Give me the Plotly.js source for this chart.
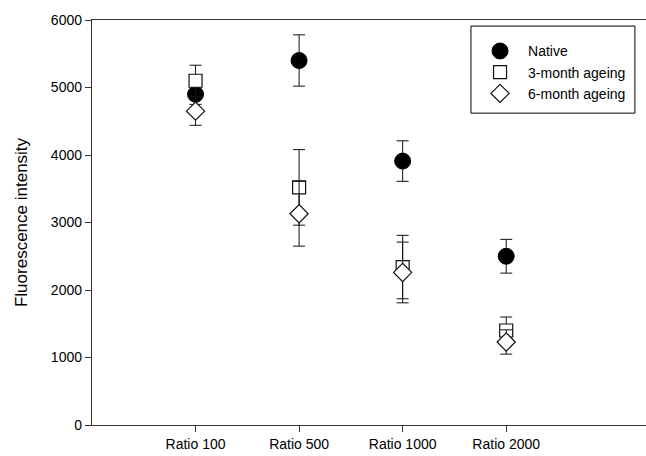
<!DOCTYPE html>
<html>
<head>
<meta charset="utf-8">
<script src="https://cdn.plot.ly/plotly-3.0.1.min.js"></script>
<style>html,body{margin:0;padding:0;background:#fff;}#chart{width:646px;height:456px;}</style>
</head>
<body>
<div id="chart"></div>
<script>
var categories = ["Ratio 100", "Ratio 500", "Ratio 1000", "Ratio 2000"];
var positions = [1, 2, 3, 4];
var nativeVals = [4900, 5400, 3910, 2500];
var nativeErr = [150, 380, 300, 250];
var month3Vals = [5100, 3520, 2340, 1400];
var month3Err = [230, 560, 470, 200];
var month6Vals = [4650, 3130, 2260, 1230];
var month6Err = [210, 480, 450, 180];
var yTicks = [0, 1000, 2000, 3000, 4000, 5000, 6000];

function errBar(arr) {
  return {type: 'data', array: arr, visible: true, color: '#111', thickness: 1, width: 6};
}

var traces = [
  {x: positions, y: nativeVals, name: 'Native', mode: 'markers', type: 'scatter',
   error_y: errBar(nativeErr),
   marker: {symbol: 'circle', size: 16, color: '#000', line: {color: '#000', width: 1}}},
  {x: positions, y: month3Vals, name: '3-month ageing', mode: 'markers', type: 'scatter',
   error_y: errBar(month3Err),
   marker: {symbol: 'square', size: 13, color: '#fff', line: {color: '#111', width: 1.2}}},
  {x: positions, y: month6Vals, name: '6-month ageing', mode: 'markers', type: 'scatter',
   error_y: errBar(month6Err),
   marker: {symbol: 'diamond', size: 14, color: '#fff', line: {color: '#111', width: 1.2}}}
];

var layout = {
  width: 646, height: 456,
  margin: {l: 92, r: 0, t: 20, b: 31, pad: 0},
  paper_bgcolor: '#fff', plot_bgcolor: '#fff',
  font: {family: 'Liberation Sans, Arial, sans-serif', size: 14, color: '#000'},
  showlegend: true,
  legend: {x: 0.686, y: 0.962, xanchor: 'left', yanchor: 'top',
           borderwidth: 0, bgcolor: 'rgba(0,0,0,0)', itemwidth: 46,
           font: {size: 14, color: '#000'}, tracegroupgap: 0},
  shapes: [
    {type: 'rect', xref: 'paper', yref: 'paper', x0: 0.684, x1: 0.980, y0: 0.770, y1: 0.985,
     line: {color: '#000', width: 1}, fillcolor: '#fff', layer: 'above'}
  ],
  xaxis: {
    range: [0, 5.35], tickvals: positions, ticktext: categories,
    showgrid: false, zeroline: false, showline: true, linecolor: '#333', linewidth: 1.2,
    mirror: true, ticks: 'outside', ticklen: 6, tickcolor: '#333', tickwidth: 1,
    tickfont: {size: 14}, fixedrange: true
  },
  yaxis: {
    range: [0, 6000], tickvals: yTicks, tickformat: 'd',
    showgrid: false, zeroline: false, showline: true, linecolor: '#333', linewidth: 1.2,
    ticks: 'outside', ticklen: 6, tickcolor: '#333', tickwidth: 1,
    tickfont: {size: 14},
    title: {text: 'Fluorescence intensity', font: {size: 17}, standoff: 18}
  }
};

Plotly.newPlot('chart', traces, layout, {displayModeBar: false, staticPlot: true});
</script>
</body>
</html>
